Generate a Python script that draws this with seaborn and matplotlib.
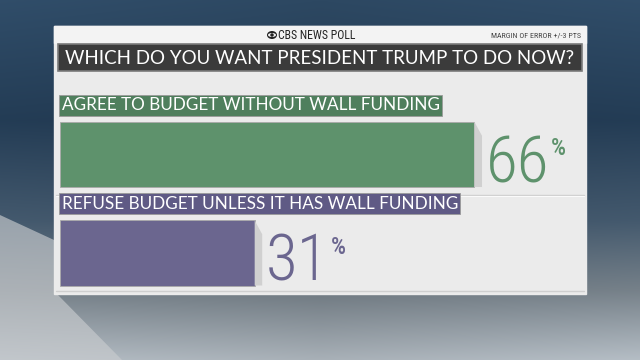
import numpy as np
import matplotlib
matplotlib.use("Agg")
import matplotlib.pyplot as plt
import seaborn as sns
import pandas as pd
from matplotlib.patches import Rectangle, Polygon, Ellipse
from matplotlib.colors import to_rgb
from matplotlib import font_manager

# ---- data ----
answers = ["AGREE TO BUDGET WITHOUT WALL FUNDING",
           "REFUSE BUDGET UNLESS IT HAS WALL FUNDING"]
shares = [66, 31]
bar_colors = ["#5e926c", "#6b668f"]
label_colors = ["#4f7f5d", "#5f5a85"]
title = "WHICH DO YOU WANT PRESIDENT TRUMP TO DO NOW?"
header = "CBS NEWS POLL"
margin_note = "MARGIN OF ERROR +/-3 PTS"

df = pd.DataFrame({"answer": answers, "share": shares})

sns.set_theme(style="white")
plt.rcParams["font.family"] = ["Lato", "DejaVu Sans"]

# narrow face for the big numbers, if one is around
names = {f.name for f in font_manager.fontManager.ttflist}
narrow = [n for n in ["Liberation Sans Narrow", "Roboto Condensed", "DejaVu Sans Condensed"] if n in names]
num_family = narrow + ["Roboto", "DejaVu Sans"]

fig = plt.figure(figsize=(6.4, 3.6), dpi=100)

# ---- backdrop (pixel coordinates) ----
bg = fig.add_axes([0, 0, 1, 1])
bg.set_xlim(0, 640)
bg.set_ylim(360, 0)
bg.axis("off")
stops_y = [0, 120, 220, 290, 360]
stops_c = [to_rgb(c) for c in ["#2d4862", "#21384f", "#3f5366", "#6e7880", "#a9b1b8"]]
yy = np.arange(360)
col = np.stack([np.interp(yy, stops_y, [c[i] for c in stops_c]) for i in range(3)], axis=1)
img = np.repeat(col[:, None, :], 640, axis=1)
xx = np.linspace(0, 1, 640)
img = img * (1 + 0.15 * (np.abs(xx - 0.5)[None, :, None]))
bg.imshow(np.clip(img, 0, 1), extent=(0, 640, 360, 0), aspect="auto", zorder=0)
bg.add_patch(Polygon([(0, 215), (54, 240), (57, 294), (122, 360), (0, 360)],
                     color="#c9cccf", alpha=0.65, zorder=1, lw=0))

# panel
bg.add_patch(Rectangle((54, 26), 532, 268, color="#ebebeb", zorder=2))
bg.add_patch(Rectangle((54, 26), 532, 17, color="#f3f3f3", zorder=2))
bg.add_patch(Rectangle((58, 44), 524, 27, facecolor="#3b3b3b",
                       edgecolor="#7a7a7a", lw=1.2, zorder=3))
bg.plot([56, 584], [195, 195], color="#cfcfcf", lw=1, zorder=3)
bg.plot([56, 584], [196, 196], color="#fafafa", lw=0.8, zorder=3)
bg.plot([56, 584], [291, 291], color="#cfcfcf", lw=1, zorder=3)

bg.text(320, 64, title, color="white", fontsize=13.5, ha="center",
        va="baseline", zorder=4)
bg.text(278, 35.5, header, color="#222222", fontsize=8.5, ha="left", va="center",
        family=num_family, zorder=4)
bg.add_patch(Ellipse((272, 35), 10, 8, facecolor="#222222", lw=0, zorder=4))
bg.add_patch(Ellipse((272, 35), 8, 4, facecolor="#f3f3f3", lw=0, zorder=5))
bg.add_patch(Ellipse((272, 35), 3.5, 3.5, facecolor="#222222", lw=0, zorder=6))
bg.text(581, 35.5, margin_note, color="#444444", fontsize=5.8, ha="right",
        va="center", family=num_family, zorder=4)

# ---- bars ----
ax = fig.add_axes([60 / 640, 1 - 293 / 360, 525 / 640, 205 / 360])
ax.patch.set_alpha(0)
sns.barplot(data=df, x="share", y="answer", hue="answer", palette=bar_colors,
            width=0.66, legend=False, ax=ax, saturation=1)
ax.set_xlim(0, 83.6)
ax.set_ylim(1.406, -0.675)
ax.axis("off")

for i, (p, v) in enumerate(zip(ax.patches, shares)):
    x1 = p.get_x() + p.get_width()
    y0, h = p.get_y(), p.get_height()
    # bevel shadow at bar end
    ax.add_patch(Polygon([(x1, y0), (x1 + 1.2, y0 + 0.14), (x1 + 1.2, y0 + h),
                          (x1, y0 + h)], color="#d0d0d0", lw=0, zorder=1))
    p.set_edgecolor("#a9a9a9")
    p.set_linewidth(0.6)
    # category label box
    ax.text(0.25, i - 0.5, answers[i], color="white", fontsize=12.3, ha="left",
            va="center",
            bbox=dict(boxstyle="square,pad=0.14", facecolor=label_colors[i],
                      edgecolor="#9a9a9a", lw=0.6))
    # value label
    t = ax.annotate(f"{v}", xy=(x1, i), xytext=(8, -20), textcoords="offset points",
                    color=bar_colors[i], fontsize=47, ha="left", va="baseline",
                    family=num_family, fontweight="light", fontstretch="condensed")
    ax.annotate("%", xy=(1, 1), xycoords=t, xytext=(1, -3),
                textcoords="offset points", color=bar_colors[i], fontsize=17,
                ha="left", va="top", fontweight="medium", family=num_family)

fig.savefig("out.png", dpi=100)
